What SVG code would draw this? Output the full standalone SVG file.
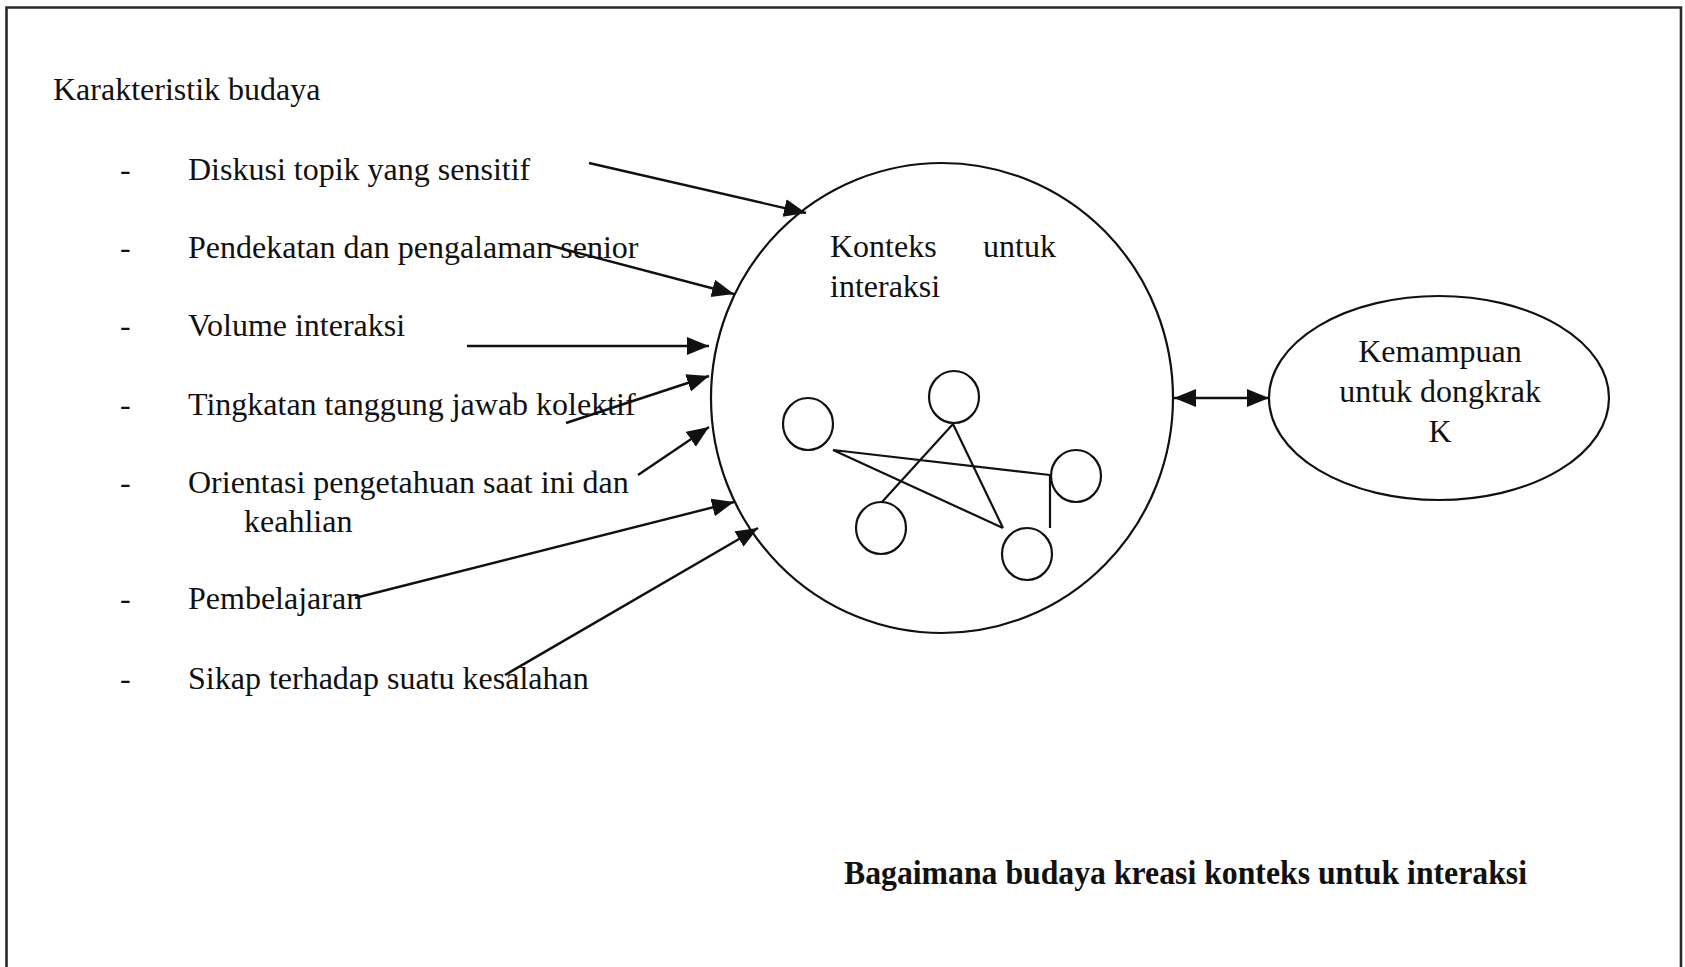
<svg xmlns="http://www.w3.org/2000/svg" width="1685" height="967" viewBox="0 0 1685 967">
<style>
  .t { font-family: "Liberation Serif", "Times New Roman", serif; font-size: 32px; fill: #111; }
  .b { font-family: "Liberation Serif", "Times New Roman", serif; font-size: 34px; font-weight: bold; fill: #111; }
  .shape { fill: none; stroke: #111; stroke-width: 2.2; }
  .conn { fill: none; stroke: #111; stroke-width: 2.4; }
  .frame { fill: none; stroke: #2a2a2a; stroke-width: 2.6; }
</style>
<defs>
  <marker id="ah" markerUnits="userSpaceOnUse" markerWidth="24" markerHeight="20" refX="22" refY="9" orient="auto-start-reverse">
    <path d="M0,0 L22,9 L0,18 z" fill="#111"/>
  </marker>
</defs>
<rect width="1685" height="967" fill="#fff"/>
<path class="frame" d="M6.5,970 V7.5 H1681 V970"/>

<g id="heading"><text class="t" x="53" y="100">Karakteristik budaya</text></g>

<g id="item-diskusi"><text class="t" x="120" y="180">-</text><text class="t" x="188" y="180">Diskusi topik yang sensitif</text></g>
<g id="item-pendekatan"><text class="t" x="120" y="258">-</text><text class="t" x="188" y="258">Pendekatan dan pengalaman senior</text></g>
<g id="item-volume"><text class="t" x="120" y="336">-</text><text class="t" x="188" y="336">Volume interaksi</text></g>
<g id="item-tingkatan"><text class="t" x="120" y="415">-</text><text class="t" x="188" y="415">Tingkatan tanggung jawab kolektif</text></g>
<g id="item-orientasi"><text class="t" x="120" y="493">-</text><text class="t" x="188" y="493">Orientasi pengetahuan saat ini dan</text><text class="t" x="244" y="532">keahlian</text></g>
<g id="item-pembelajaran"><text class="t" x="120" y="609">-</text><text class="t" x="188" y="609">Pembelajaran</text></g>
<g id="item-sikap"><text class="t" x="120" y="689">-</text><text class="t" x="188" y="689">Sikap terhadap suatu kesalahan</text></g>

<g id="konteks">
  <ellipse class="shape" cx="942" cy="398" rx="231" ry="235"/>
  <text class="t" x="830" y="257">Konteks</text>
  <text class="t" x="983" y="257">untuk</text>
  <text class="t" x="830" y="297">interaksi</text>
</g>

<g id="network">
  <ellipse class="shape" cx="808" cy="424" rx="25" ry="26"/>
  <ellipse class="shape" cx="954" cy="397" rx="25" ry="26"/>
  <ellipse class="shape" cx="1076" cy="476" rx="25" ry="26"/>
  <ellipse class="shape" cx="881" cy="528" rx="25" ry="26"/>
  <ellipse class="shape" cx="1027" cy="554" rx="25" ry="26"/>
  <path class="shape" d="M833,450 L1050,475 M833,450 L1003,528 M953,424 L882,502 M953,424 L1003,528 M1050,475 L1050,528"/>
</g>

<g id="kemampuan">
  <ellipse class="shape" cx="1439" cy="398" rx="170" ry="102"/>
  <text class="t" x="1440" y="362" text-anchor="middle">Kemampuan</text>
  <text class="t" x="1440" y="402" text-anchor="middle">untuk dongkrak</text>
  <text class="t" x="1440" y="442" text-anchor="middle">K</text>
</g>

<g id="connectors">
  <line class="conn" x1="589" y1="163" x2="806" y2="213" marker-end="url(#ah)"/>
  <line class="conn" x1="548" y1="245" x2="734" y2="294" marker-end="url(#ah)"/>
  <line class="conn" x1="467" y1="346" x2="709" y2="346" marker-end="url(#ah)"/>
  <line class="conn" x1="566" y1="423" x2="709" y2="376" marker-end="url(#ah)"/>
  <line class="conn" x1="638" y1="475" x2="709" y2="427" marker-end="url(#ah)"/>
  <line class="conn" x1="355" y1="598" x2="734" y2="502" marker-end="url(#ah)"/>
  <line class="conn" x1="505" y1="675" x2="758" y2="528" marker-end="url(#ah)"/>
  <line class="conn" x1="1174" y1="398" x2="1269" y2="398" marker-start="url(#ah)" marker-end="url(#ah)"/>
</g>

<g id="caption"><text class="b" x="844" y="884" textLength="683" lengthAdjust="spacingAndGlyphs">Bagaimana budaya kreasi konteks untuk interaksi</text></g>
</svg>
